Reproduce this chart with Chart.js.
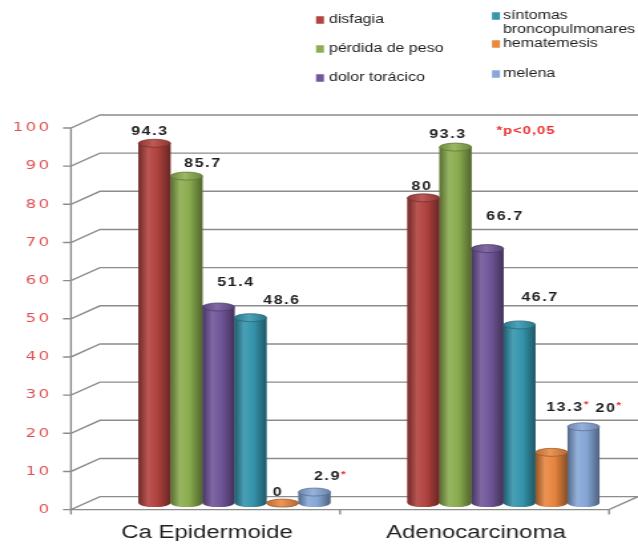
<!DOCTYPE html>
<html>
<head>
<meta charset="utf-8">
<script src="https://cdn.jsdelivr.net/npm/chart.js@4/dist/chart.umd.min.js"></script>
<style>
  html, body { margin: 0; padding: 0; background: #fff; overflow: hidden; }
  canvas { display: block; }
</style>
</head>
<body>
<canvas id="c" width="480" height="547" style="width:638px;height:547px"></canvas>
<script>
// ---- data ----
const categories = ['Ca Epidermoide', 'Adenocarcinoma'];
const seriesNames = ['disfagia', 'pérdida de peso', 'dolor torácico', 'síntomas broncopulmonares', 'hematemesis', 'melena'];
const disfagia = [94.3, 80];
const perdidaPeso = [85.7, 93.3];
const dolorToracico = [51.4, 66.7];
const sintomasBronco = [48.6, 46.7];
const hematemesis = [0, 13.3];
const melena = [2.9, 20];
// values flagged as significant (drawn with a red asterisk)
const starDisfagia = [false, false];
const starPerdida = [false, false];
const starDolor = [false, false];
const starSintomas = [false, false];
const starHematemesis = [false, true];
const starMelena = [true, true];
const yTickValues = [0, 10, 20, 30, 40, 50, 60, 70, 80, 90, 100];
const noteText = '*p<0,05';

const seriesValues = [disfagia, perdidaPeso, dolorToracico, sintomasBronco, hematemesis, melena];
const seriesStars = [starDisfagia, starPerdida, starDolor, starSintomas, starHematemesis, starMelena];

// ---- styling ----
const palette = ['#b3433f', '#8cae50', '#71579a', '#3596ae', '#ea8840', '#88a8d8'];
const S = 638 / 480;          // the bitmap is stretched horizontally by this factor
const DEPTH_X = 29 / S;       // front-to-back shift of the 3D box (x)
const DEPTH_Y = 13;           // front-to-back shift of the 3D box (y)
const CAP_RY = 4;             // vertical radius of the cylinder caps
// label placement relative to the top of each bar (screen px: dx, dy)
const labelNudge = [
  [[-4.5, -12], [-1.5, -11]],
  [[16.5, -12], [-7.5, -12.5]],
  [[17.5, -24], [17.5, -31.5]],
  [[31.5, -17], [20.5, -27]],
  [[-4.5, -10], [13.5, -44.5]],
  [[13, -15], [22.5, -18.5]]
];

function tone(hex, f) {
  const n = parseInt(hex.slice(1), 16);
  const c = [n >> 16, (n >> 8) & 255, n & 255].map(v => f >= 1 ? v + (255 - v) * (f - 1) : v * f);
  return 'rgb(' + c.map(v => Math.round(Math.max(0, Math.min(255, v)))).join(',') + ')';
}

// back wall / floor grid of the 3D box
const wallPlugin = {
  id: 'wall',
  beforeDraw(chart) {
    chart.ctx.letterSpacing = '1.8px';   // spacing used by the value-axis labels
  },
  beforeDatasetsDraw(chart) {
    const { ctx, chartArea: a, scales: { y } } = chart;
    const xb = a.left, xf = a.left - DEPTH_X;
    ctx.save();
    ctx.strokeStyle = '#8c8c8c';
    ctx.lineWidth = 1.4;
    ctx.beginPath();
    yTickValues.forEach(v => {
      const p = y.getPixelForValue(v);
      const yb = p - DEPTH_Y / 2, yf = p + DEPTH_Y / 2;
      ctx.moveTo(xf - 6, yf);
      ctx.lineTo(xf, yf);
      ctx.lineTo(xb, yb);
      ctx.lineTo(chart.width, yb);
    });
    const top = y.getPixelForValue(yTickValues[yTickValues.length - 1]) + DEPTH_Y / 2;
    const bot = y.getPixelForValue(0) + DEPTH_Y / 2;
    ctx.moveTo(xf, top);
    ctx.lineTo(xf, bot + 5);
    const catW = (a.right - a.left) / categories.length;
    ctx.moveTo(xf, bot);
    ctx.lineTo(a.right - DEPTH_X, bot);
    ctx.lineTo(a.right, bot - DEPTH_Y);
    for (let k = 1; k <= categories.length; k++) {
      const tx = a.left + catW * k - DEPTH_X;
      ctx.moveTo(tx, bot);
      ctx.lineTo(tx, bot + 5);
    }
    ctx.stroke();
    ctx.restore();
  },
  afterDatasetsDraw(chart) {
    const ctx = chart.ctx;
    ctx.save();
    // cylinder shading and caps on top of the library's bars
    chart.data.datasets.forEach((ds, i) => {
      const meta = chart.getDatasetMeta(i);
      const c = ds.backgroundColor;
      meta.data.forEach(el => {
        const { x, y, base, width } = el.getProps(['x', 'y', 'base', 'width'], true);
        const rx = width / 2, l = x - rx, r = x + rx;
        const g = ctx.createLinearGradient(l, 0, r, 0);
        g.addColorStop(0, tone(c, 0.62));
        g.addColorStop(0.3, tone(c, 1.1));
        g.addColorStop(0.6, tone(c, 0.98));
        g.addColorStop(1, tone(c, 0.58));
        ctx.beginPath();
        ctx.moveTo(l, y);
        ctx.lineTo(l, base);
        ctx.ellipse(x, base, rx, CAP_RY, 0, Math.PI, 0, true);
        ctx.lineTo(r, y);
        ctx.closePath();
        ctx.fillStyle = g;
        ctx.fill();
        const gc = ctx.createLinearGradient(l, 0, r, 0);
        gc.addColorStop(0, tone(c, 0.8));
        gc.addColorStop(0.45, tone(c, 1.12));
        gc.addColorStop(1, tone(c, 0.78));
        ctx.beginPath();
        ctx.ellipse(x, y, rx, CAP_RY, 0, 0, Math.PI * 2);
        ctx.fillStyle = gc;
        ctx.fill();
        ctx.strokeStyle = tone(c, 0.65);
        ctx.lineWidth = 0.7;
        ctx.stroke();
      });
    });
    // value labels
    ctx.letterSpacing = '1.2px';
    ctx.textBaseline = 'middle';
    chart.data.datasets.forEach((ds, i) => {
      const meta = chart.getDatasetMeta(i);
      meta.data.forEach((el, j) => {
        const { x, y } = el.getProps(['x', 'y'], true);
        const txt = String(ds.data[j]);
        const px = x + labelNudge[i][j][0] / S;
        const py = y + labelNudge[i][j][1];
        ctx.font = 'bold 12px "Liberation Sans"';
        ctx.textAlign = 'center';
        ctx.fillStyle = '#1e1e1e';
        ctx.fillText(txt, px, py);
        if (seriesStars[i][j]) {
          const w = ctx.measureText(txt).width;
          ctx.font = 'bold 9px "Liberation Sans"';
          ctx.textAlign = 'left';
          ctx.fillStyle = '#ee3030';
          ctx.fillText('*', px + w / 2, py - 3);
        }
      });
    });
    ctx.letterSpacing = '0.8px';
    ctx.font = 'bold 11px "Liberation Sans"';
    ctx.textAlign = 'center';
    ctx.fillStyle = '#ee2c2c';
    ctx.fillText(noteText, 526 / S, 131);
    ctx.restore();
    ctx.letterSpacing = '0px';
  }
};

// two-column legend above the plot
const legendPlugin = {
  id: 'colLegend',
  afterDraw(chart) {
    const ctx = chart.ctx;
    const cols = [
      { sq: 316 / S, tx: 329 / S, rows: [20, 49, 78] },
      { sq: 492 / S, tx: 503 / S, rows: [16, 44, 74] }
    ];
    ctx.save();
    ctx.letterSpacing = '0px';
    ctx.font = '12px "Liberation Sans"';
    ctx.textBaseline = 'middle';
    ctx.textAlign = 'left';
    chart.data.datasets.forEach((ds, i) => {
      const col = cols[Math.floor(i / 3)];
      const ry = col.rows[i % 3];
      ctx.fillStyle = ds.backgroundColor;
      ctx.fillRect(col.sq, ry - 3.75, 6, 7.5);
      const words = ds.label.split(' ');
      const lines = [];
      let cur = '';
      words.forEach(w => {
        const t = cur ? cur + ' ' + w : w;
        if (cur && ctx.measureText(t).width > 108) { lines.push(cur); cur = w; } else cur = t;
      });
      lines.push(cur);
      ctx.fillStyle = '#1c1c1c';
      lines.forEach((ln, k) => ctx.fillText(ln, col.tx, ry + k * 14));
    });
    ctx.restore();
  }
};

new Chart(document.getElementById('c'), {
  type: 'bar',
  data: {
    labels: categories,
    datasets: seriesNames.map((name, i) => ({
      label: name,
      data: seriesValues[i],
      backgroundColor: palette[i],
      borderWidth: 0
    }))
  },
  options: {
    responsive: false,
    maintainAspectRatio: false,
    animation: false,
    devicePixelRatio: 1,
    layout: { padding: { top: 121.5, right: 0, bottom: 0, left: 0 } },
    plugins: { legend: { display: false }, tooltip: { enabled: false } },
    datasets: { bar: { categoryPercentage: 0.7138, barPercentage: 1 } },
    scales: {
      x: {
        grid: { display: false, drawTicks: false },
        border: { display: false },
        ticks: {
          font: { family: 'Liberation Sans', size: 18 },
          color: '#1f1f1f',
          padding: 19,
          labelOffset: -20.7,
          maxRotation: 0,
          autoSkip: false,
          z: 1
        },
        afterFit(s) { s.height = 38; }
      },
      y: {
        min: 0,
        max: 100,
        grid: { display: false, drawTicks: false },
        border: { display: false },
        ticks: {
          font: { family: 'DejaVu Sans', size: 12.5 },
          color: '#e05252',
          padding: 36.4,
          labelOffset: 6.5
        },
        afterBuildTicks(s) { s.ticks = yTickValues.map(v => ({ value: v })); },
        afterFit(s) { s.width = 75.2; }
      }
    }
  },
  plugins: [wallPlugin, legendPlugin]
});
</script>
</body>
</html>
